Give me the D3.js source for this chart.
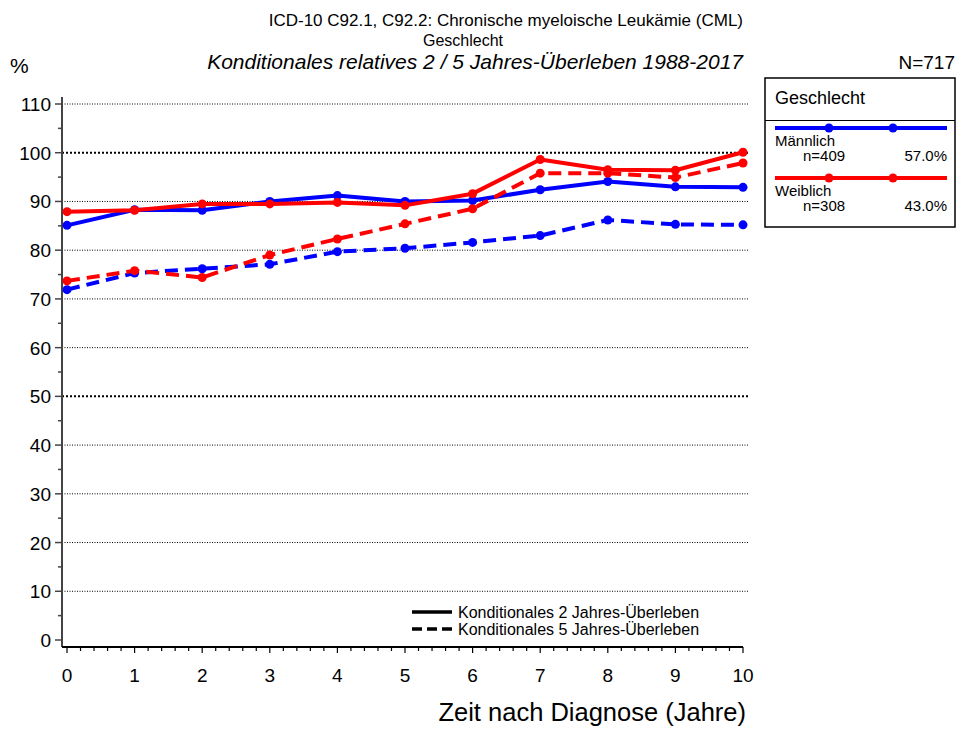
<!DOCTYPE html>
<html>
<head>
<meta charset="utf-8">
<script src="https://cdn.jsdelivr.net/npm/d3@7"></script>
<style>
  body { margin: 0; background: #fff; }
  svg { font-family: "Liberation Sans", Arial, sans-serif; }
</style>
</head>
<body>
<svg id="chart" width="958" height="731"></svg>
<script>
// years after diagnosis
const years = [0, 1, 2, 3, 4, 5, 6, 7, 8, 9, 10];

// conditional relative survival (%)
const maleTwoYear = [85.1, 88.3, 88.2, 90.0, 91.2, 90.0, 90.2, 92.4, 94.1, 93.0, 92.9];
const maleFiveYear = [71.9, 75.3, 76.2, 77.1, 79.7, 80.4, 81.6, 83.0, 86.2, 85.3, 85.2];
const femaleTwoYear = [87.9, 88.2, 89.5, 89.5, 89.8, 89.2, 91.6, 98.6, 96.5, 96.4, 100.1];
const femaleFiveYear = [73.7, 75.8, 74.4, 79.0, 82.3, 85.4, 88.5, 95.8, 95.8, 94.9, 97.9];

const groups = ['Männlich', 'Weiblich'];
const groupN = ['n=409', 'n=308'];
const groupShare = ['57.0%', '43.0%'];
const groupColors = ['#0000ff', '#ff0000'];

const yTicks = [0, 10, 20, 30, 40, 50, 60, 70, 80, 90, 100, 110];

const series = [
  { values: maleTwoYear, color: groupColors[0], dashed: false },
  { values: maleFiveYear, color: groupColors[0], dashed: true },
  { values: femaleTwoYear, color: groupColors[1], dashed: false },
  { values: femaleFiveYear, color: groupColors[1], dashed: true }
];

const svg = d3.select('#chart');

const xScale = d3.scaleLinear().domain([0, 10]).range([67, 743]);
const yScale = d3.scaleLinear().domain([0, 110]).range([640, 104]);
const axisLeft = 62;
const axisBottom = 647;

// titles
svg.append('text').attr('x', 743).attr('y', 26).attr('text-anchor', 'end')
  .attr('font-size', 17).text('ICD-10 C92.1, C92.2: Chronische myeloische Leukämie (CML)');
svg.append('text').attr('x', 463).attr('y', 46).attr('text-anchor', 'middle')
  .attr('font-size', 16).text('Geschlecht');
svg.append('text').attr('x', 743).attr('y', 69).attr('text-anchor', 'end')
  .attr('font-size', 21).attr('font-style', 'italic')
  .text('Konditionales relatives 2 / 5 Jahres-Überleben 1988-2017');
svg.append('text').attr('x', 10).attr('y', 73).attr('font-size', 21).text('%');
svg.append('text').attr('x', 955).attr('y', 69).attr('text-anchor', 'end')
  .attr('font-size', 19).text('N=717');

// grid lines
svg.append('g')
  .selectAll('line')
  .data(yTicks.filter(d => d > 0))
  .join('line')
  .attr('x1', axisLeft)
  .attr('x2', 748)
  .attr('y1', d => yScale(d))
  .attr('y2', d => yScale(d))
  .attr('stroke', '#000')
  .attr('stroke-width', d => (d === 50 || d === 100) ? 2 : 1)
  .attr('stroke-dasharray', d => (d === 50 || d === 100) ? '2,2' : '1,1.5');

// y axis
const yAxis = svg.append('g').attr('transform', `translate(${axisLeft},0)`);
yAxis.append('line').attr('x1', 0).attr('x2', 0)
  .attr('y1', 97).attr('y2', axisBottom)
  .attr('stroke', '#444').attr('stroke-width', 2);
yAxis.selectAll('line.minor')
  .data(d3.range(0, 111, 5))
  .join('line')
  .attr('class', 'minor')
  .attr('x1', d => d % 10 === 0 ? -7 : -4)
  .attr('x2', 0)
  .attr('y1', d => yScale(d))
  .attr('y2', d => yScale(d))
  .attr('stroke', '#444').attr('stroke-width', 1.5);
yAxis.selectAll('text')
  .data(yTicks)
  .join('text')
  .attr('x', -11)
  .attr('y', d => yScale(d) + 7)
  .attr('text-anchor', 'end')
  .attr('font-size', 19)
  .text(d => d);

// x axis
const xAxis = svg.append('g').attr('transform', `translate(0,${axisBottom})`);
xAxis.append('line').attr('x1', axisLeft).attr('x2', xScale(10))
  .attr('stroke', '#000').attr('stroke-width', 2);
xAxis.selectAll('line.tick')
  .data(d3.range(0, 50.5, 1).map(d => d / 5))
  .join('line')
  .attr('class', 'tick')
  .attr('x1', d => xScale(d))
  .attr('x2', d => xScale(d))
  .attr('y1', 0)
  .attr('y2', (d, i) => i % 5 === 0 ? 6 : 4)
  .attr('stroke', '#000').attr('stroke-width', 1.2);
xAxis.selectAll('text')
  .data(years)
  .join('text')
  .attr('x', d => xScale(d))
  .attr('y', 35)
  .attr('text-anchor', 'middle')
  .attr('font-size', 19)
  .text(d => d);

svg.append('text').attr('x', 746).attr('y', 721).attr('text-anchor', 'end')
  .attr('font-size', 25.5).text('Zeit nach Diagnose (Jahre)');

// series lines and points
const line = d3.line()
  .x((d, i) => xScale(years[i]))
  .y(d => yScale(d));

series.forEach(s => {
  svg.append('path')
    .datum(s.values)
    .attr('fill', 'none')
    .attr('stroke', s.color)
    .attr('stroke-width', 4)
    .attr('stroke-linejoin', 'round')
    .attr('stroke-dasharray', s.dashed ? '13,7' : null)
    .attr('d', line);
  svg.append('g')
    .selectAll('circle')
    .data(s.values)
    .join('circle')
    .attr('cx', (d, i) => xScale(years[i]))
    .attr('cy', d => yScale(d))
    .attr('r', 4.5)
    .attr('fill', s.color);
});

// line style legend
const styleLegend = svg.append('g');
[['Konditionales 2 Jahres-Überleben', null], ['Konditionales 5 Jahres-Überleben', '10,5']]
  .forEach((item, i) => {
    const y = 612 + i * 17;
    styleLegend.append('line').attr('x1', 412).attr('x2', 452)
      .attr('y1', y).attr('y2', y)
      .attr('stroke', '#000').attr('stroke-width', 3.5)
      .attr('stroke-dasharray', item[1]);
    styleLegend.append('text').attr('x', 458).attr('y', y + 6)
      .attr('font-size', 16).text(item[0]);
  });

// group legend box
const box = svg.append('g');
box.append('rect').attr('x', 765).attr('y', 78).attr('width', 190).attr('height', 149)
  .attr('fill', '#fff').attr('stroke', '#000').attr('stroke-width', 1.5);
box.append('line').attr('x1', 765).attr('x2', 955).attr('y1', 120.5).attr('y2', 120.5)
  .attr('stroke', '#000').attr('stroke-width', 1);
box.append('text').attr('x', 775).attr('y', 104).attr('font-size', 18).text('Geschlecht');
groups.forEach((g, i) => {
  const y0 = 128 + i * 50;
  box.append('line').attr('x1', 775).attr('x2', 947).attr('y1', y0).attr('y2', y0)
    .attr('stroke', groupColors[i]).attr('stroke-width', 4);
  [829, 893].forEach(cx => {
    box.append('circle').attr('cx', cx).attr('cy', y0).attr('r', 4.5).attr('fill', groupColors[i]);
  });
  box.append('text').attr('x', 775).attr('y', y0 + 18).attr('font-size', 15).text(g);
  box.append('text').attr('x', 803).attr('y', y0 + 33).attr('font-size', 15).text(groupN[i]);
  box.append('text').attr('x', 947).attr('y', y0 + 33).attr('text-anchor', 'end')
    .attr('font-size', 15).text(groupShare[i]);
});
</script>
</body>
</html>
